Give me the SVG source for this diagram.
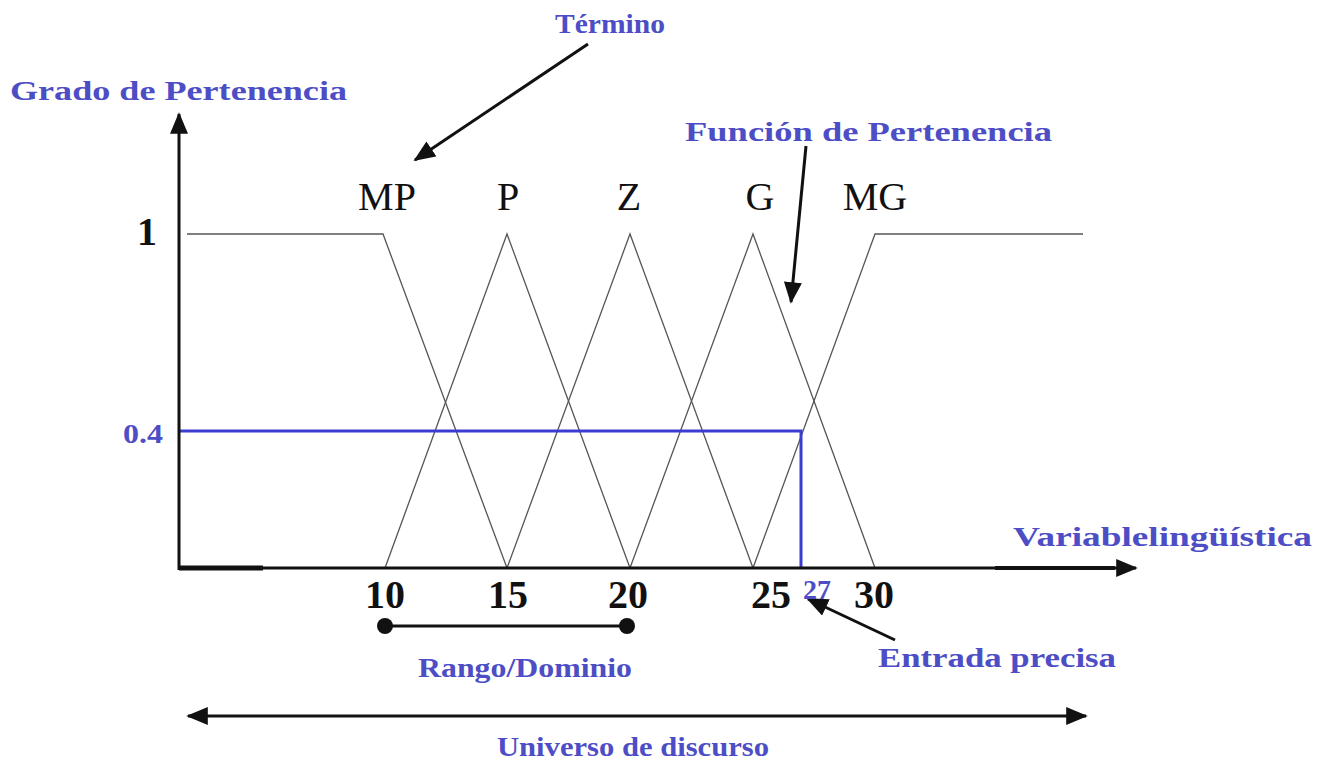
<svg xmlns="http://www.w3.org/2000/svg" width="1321" height="761" viewBox="0 0 1321 761">
<style>
.blue{fill:#4d4dc6;font-family:"Liberation Serif",serif;font-weight:bold;font-size:28px}
.term{fill:#111;font-family:"Liberation Serif",serif;font-size:40px}
.num{fill:#111;font-family:"Liberation Serif",serif;font-weight:bold;font-size:40px}
.mf{fill:none;stroke:#555;stroke-width:1.3}
.ax{stroke:#111;stroke-width:3;fill:none}
.bl{stroke:#3c3cd0;stroke-width:3;fill:none}
</style>
<defs>
<marker id="ah" viewBox="0 0 12 10" refX="11" refY="5" markerWidth="22" markerHeight="18" markerUnits="userSpaceOnUse" orient="auto-start-reverse"><path d="M0,0L12,5L0,10z" fill="#111"/></marker>
</defs>
<rect width="1321" height="761" fill="#fff"/>
<g id="membership">
<polyline class="mf" points="187,234 383,234 507,568"/>
<polyline class="mf" points="385,568 507,234 630,568"/>
<polyline class="mf" points="507,568 630,234 753,568"/>
<polyline class="mf" points="630,568 753,234 875,568"/>
<polyline class="mf" points="753,568 875,234 1083,234"/>
</g>
<g id="input-line">
<polyline class="bl" points="180,431 801,431 801,568"/>
</g>
<g id="connectors">
<line class="ax" x1="179" y1="570" x2="179" y2="114" marker-end="url(#ah)"/>
<line class="ax" x1="179" y1="568" x2="1136" y2="568" stroke-width="2.5" marker-end="url(#ah)"/>
<line x1="179" y1="568" x2="263" y2="568" stroke="#111" stroke-width="5"/>
<line x1="995" y1="568" x2="1115" y2="568" stroke="#111" stroke-width="4"/>
<line class="ax" x1="588" y1="44" x2="415" y2="160" marker-end="url(#ah)"/>
<line class="ax" x1="806" y1="146" x2="791" y2="302" marker-end="url(#ah)"/>
<line class="ax" x1="895" y1="640" x2="808" y2="599" marker-end="url(#ah)"/>
<line class="ax" x1="385" y1="626" x2="627" y2="626"/>
<circle cx="385" cy="626" r="8" fill="#111"/>
<circle cx="627" cy="626" r="8" fill="#111"/>
<line class="ax" x1="188" y1="716" x2="1086" y2="716" marker-start="url(#ah)" marker-end="url(#ah)"/>
</g>
<g id="labels">
<text class="blue" x="555" y="33" textLength="110" lengthAdjust="spacingAndGlyphs">Término</text>
<text class="blue" x="10" y="100" textLength="337" lengthAdjust="spacingAndGlyphs">Grado de Pertenencia</text>
<text class="blue" x="685" y="141" textLength="367" lengthAdjust="spacingAndGlyphs">Función de Pertenencia</text>
<text class="blue" x="1013" y="546" textLength="299" lengthAdjust="spacingAndGlyphs">Variablelingüística</text>
<text class="blue" x="878" y="667" textLength="238" lengthAdjust="spacingAndGlyphs">Entrada precisa</text>
<text class="blue" x="418" y="677" textLength="214" lengthAdjust="spacingAndGlyphs">Rango/Dominio</text>
<text class="blue" x="497" y="756" textLength="272" lengthAdjust="spacingAndGlyphs">Universo de discurso</text>
<text class="blue" x="123" y="443" textLength="40" lengthAdjust="spacingAndGlyphs">0.4</text>
<text class="blue" x="817" y="599" text-anchor="middle" font-size="22" font-weight="normal">27</text>
<text class="term" x="387" y="210" text-anchor="middle">MP</text>
<text class="term" x="508" y="210" text-anchor="middle">P</text>
<text class="term" x="629" y="210" text-anchor="middle">Z</text>
<text class="term" x="760" y="210" text-anchor="middle">G</text>
<text class="term" x="875" y="210" text-anchor="middle">MG</text>
<text class="num" x="147" y="245" text-anchor="middle">1</text>
<text class="num" x="385" y="608" text-anchor="middle">10</text>
<text class="num" x="508" y="608" text-anchor="middle">15</text>
<text class="num" x="628" y="608" text-anchor="middle">20</text>
<text class="num" x="771" y="608" text-anchor="middle">25</text>
<text class="num" x="874" y="608" text-anchor="middle">30</text>
</g>
</svg>
